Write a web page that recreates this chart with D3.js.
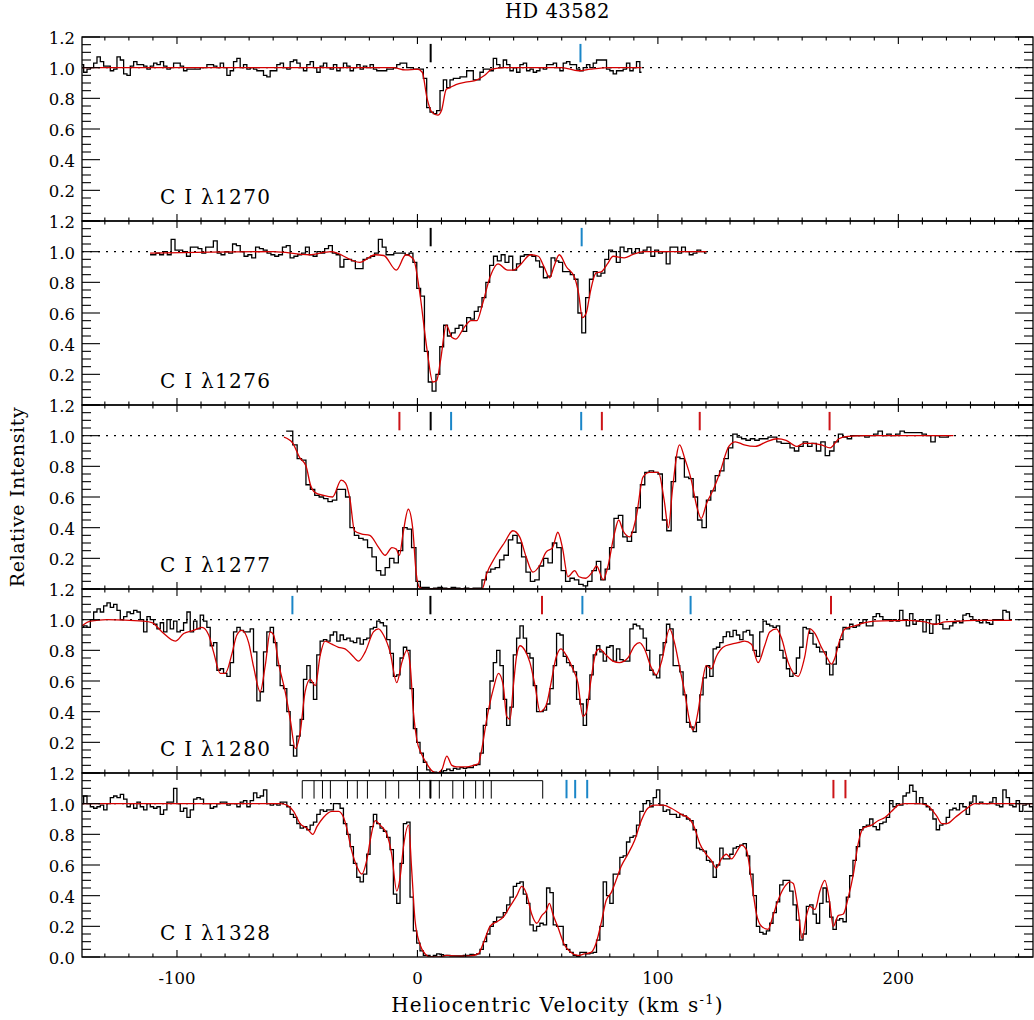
<!DOCTYPE html>
<html>
<head>
<meta charset="utf-8">
<script src="https://cdn.jsdelivr.net/npm/d3@7"></script>
<style>
  body { margin: 0; background: #fff; }
  svg text { font-family: "DejaVu Serif", serif; fill: #000; }
</style>
</head>
<body>
<svg id="chart" width="1034" height="1020"></svg>
<script>
// ---- axes ----
const velocityRange = [-139.5, 256];
const intensityRange = [0, 1.2];
const starName = "HD 43582";
const lineNames = ["C I \u03bb1270", "C I \u03bb1276", "C I \u03bb1277", "C I \u03bb1280", "C I \u03bb1328"];

// ---- observed spectra: first pixel velocity and pixel width (km/s) ----
const gridStart = [-139.5, -111.2, -54.6, -139.5, -139.5];
const gridStep  = [1.385, 1.596, 1.83, 1.385, 1.385];

const flux1270 = [
  1.02,0.97,0.99,1.0,1.03,1.07,1.04,1.01,1.01,0.98,
  0.99,1.07,1.05,0.96,0.95,1.01,1.04,1.02,1.02,1.01,
  0.99,1.01,1.03,1.02,1.04,1.01,0.99,1.0,1.03,1.03,
  1.01,0.98,0.99,0.99,0.99,0.99,1.0,1.0,1.02,1.02,
  1.01,1.0,1.03,1.0,0.95,0.98,1.04,1.06,1.0,1.02,
  0.99,1.0,0.99,0.98,0.98,0.95,0.94,0.98,0.98,1.02,
  1.03,1.0,0.99,1.04,1.05,1.03,
  1.0,0.98,1.02,1.04,1.0,0.97,1.01,1.03,1.0,0.99,1.02,0.98,
  1.0,1.03,1.01,0.98,1.0,1.02,0.99,1.01,1.0,1.02,0.99,0.98,
  0.98,0.98,0.99,0.99,1.0,1.02,1.03,1.03,1.0,1.0,
  0.99,0.99,0.99,0.93,0.74,0.71,0.70,0.72,0.85,0.92,
  0.87,0.92,0.93,0.93,0.94,0.94,0.98,0.98,0.92,0.92,
  0.97,0.99,0.99,0.98,1.06,1.02,1.0,1.05,1.02,0.98,
  1.0,0.97,1.02,1.03,0.98,0.99,0.97,0.98,1.0,0.99,
  1.02,1.02,1.03,1.0,0.98,1.03,1.04,1.02,1.02,0.99,
  0.98,1.0,1.02,1.0,1.03,1.05,1.05,1.05,0.99,0.98,
  0.96,0.98,0.98,0.99,1.03,0.98,1.0,1.04,0.97
];
const flux1276 = [
  0.98,0.98,0.99,0.98,1.0,0.98,1.08,1.01,1.01,1.0,
  0.97,1.03,1.03,1.02,0.99,1.03,1.03,1.07,0.99,0.98,
  1.0,0.99,1.05,1.04,1.0,0.97,0.98,0.96,1.03,1.02,
  1.01,0.99,0.98,0.97,0.98,1.03,1.04,0.96,0.97,0.98,
  0.99,1.03,0.98,0.97,1.0,0.99,1.02,1.04,0.99,0.98,
  0.90,0.95,0.95,0.94,0.89,0.89,0.95,0.96,0.97,0.99,
  1.08,1.03,0.98,0.98,0.99,0.99,0.99,0.98,0.99,0.93,
  0.76,0.71,0.35,0.15,0.09,0.20,0.38,0.52,0.45,0.47,
  0.50,0.52,0.48,0.57,0.56,0.61,0.64,0.70,0.80,0.91,
  0.97,0.94,0.98,0.93,0.97,0.88,0.92,0.97,0.98,0.98,
  0.97,0.94,0.90,0.83,0.84,0.96,0.94,0.93,0.87,0.87,
  0.85,0.82,0.60,0.47,0.70,0.82,0.87,0.84,0.86,0.95,
  1.01,1.0,0.93,1.03,1.0,1.02,0.99,1.02,0.99,1.01,
  1.03,0.97,1.01,0.99,1.0,0.92,1.03,1.03,0.99,1.03,
  1.0,0.98,0.99,1.01,1.0,0.99
];
const flux1277 = [
  1.03,1.03,0.94,0.85,0.84,0.68,0.65,0.61,0.60,0.59,
  0.57,0.58,0.65,0.65,0.60,0.40,0.35,0.33,0.32,0.27,
  0.21,0.12,0.09,0.14,0.20,0.17,0.25,0.40,0.39,0.27,
  0.05,0.01,0.01,0.0,0.005,0.01,0.005,0.0,0.01,0.005,
  0.0,0.005,0.0,0.005,0.005,0.06,0.11,0.13,0.14,0.19,
  0.22,0.32,0.35,0.30,0.21,0.11,0.05,0.06,0.15,0.20,
  0.17,0.30,0.27,0.12,0.05,0.07,0.06,0.03,0.02,0.05,
  0.12,0.18,0.06,0.13,0.27,0.46,0.48,0.34,0.31,0.37,
  0.53,0.68,0.76,0.77,0.76,0.75,0.45,0.38,0.70,0.86,
  0.85,0.73,0.72,0.60,0.45,0.40,0.58,0.64,0.74,0.77,
  0.85,0.92,1.01,0.99,0.98,0.97,0.98,0.97,0.98,0.98,
  0.99,0.99,0.96,0.95,0.95,0.92,0.90,0.93,0.96,0.93,
  0.95,0.90,0.96,0.87,0.90,0.96,1.01,0.99,0.98,1.0,
  1.0,1.0,0.99,1.0,1.01,1.03,1.0,1.01,1.0,1.01,
  1.03,1.02,1.02,1.02,1.02,1.01,1.0,0.96,1.0,0.99,
  0.99,1.0
];
const flux1280 = [
  0.95,0.96,0.95,1.0,1.05,1.07,1.05,1.09,1.11,1.08,
  1.10,1.06,1.0,1.02,1.05,1.04,1.06,1.05,1.0,0.92,
  1.02,1.0,0.97,0.94,0.98,0.92,1.0,0.94,0.99,0.92,
  0.93,0.98,1.05,0.92,0.99,0.94,1.03,0.99,0.95,0.83,
  0.85,0.67,0.68,0.65,0.63,0.72,0.92,0.95,0.93,0.92,
  0.92,0.94,0.79,0.47,0.53,0.79,0.92,0.95,0.85,0.70,
  0.57,0.55,0.40,0.18,0.11,0.24,0.35,0.61,0.70,0.59,
  0.48,0.77,0.86,0.87,0.86,0.90,0.92,0.86,0.90,0.87,
  0.88,0.86,0.85,0.88,0.84,0.87,0.88,0.94,0.95,0.99,
  0.98,0.96,0.87,0.78,0.63,0.64,0.75,0.82,0.80,0.55,
  0.29,0.20,0.13,0.07,0.02,0.0,0.005,0.0,0.005,0.015,
  0.025,0.015,0.03,0.025,0.035,0.03,0.035,0.035,0.05,0.055,
  0.13,0.31,0.42,0.60,0.72,0.80,0.70,0.48,0.31,0.43,
  0.77,0.88,0.96,0.88,0.78,0.75,0.57,0.40,
  0.40,0.41,0.45,0.55,0.70,0.91,0.90,0.76,0.72,0.70,
  0.66,0.48,0.45,0.31,0.48,0.64,0.77,0.83,0.79,0.73,
  0.82,0.83,0.73,0.81,0.74,0.73,0.73,0.94,0.97,0.96,
  0.94,0.88,0.80,0.67,0.64,0.62,0.77,0.85,0.97,0.94,
  0.70,0.70,0.66,0.51,0.33,0.30,0.27,0.33,0.51,0.62,
  0.70,0.63,0.81,0.82,0.85,0.89,0.92,0.89,0.93,0.90,
  0.87,0.92,0.93,0.90,0.80,0.76,0.92,0.99,0.97,0.96,
  0.95,0.96,0.80,0.75,0.68,0.63,0.65,0.75,0.82,0.95,
  0.94,0.91,0.84,0.82,0.79,0.79,0.71,0.64,0.71,0.82,
  0.87,0.95,0.94,0.97,0.95,0.96,0.98,1.0,0.96,0.96,
  1.02,1.04,1.02,1.0,1.0,0.99,1.0,0.99,1.06,1.0,
  0.96,1.04,0.97,0.99,1.0,0.92,1.0,0.91,0.97,1.03,
  0.97,0.94,0.94,0.96,0.98,0.99,0.98,1.03,1.04,1.02,
  1.0,0.99,0.98,1.0,0.98,0.97,1.0,1.0,1.0,1.06,
  1.05,1.0
];
const flux1328 = [
  1.0,1.05,1.0,0.98,0.97,0.98,0.99,0.96,1.0,1.04,
  1.05,1.04,1.06,1.03,0.98,1.0,0.97,1.01,0.98,0.96,
  1.0,0.98,0.97,0.98,0.93,0.96,1.01,1.01,1.10,1.0,
  0.95,0.97,0.91,0.96,1.03,1.04,1.03,1.0,1.0,0.97,
  0.98,1.0,1.01,1.01,0.99,1.0,1.0,0.98,1.01,1.02,
  0.98,1.02,1.07,1.04,1.05,1.09,1.0,0.99,1.0,0.99,
  1.01,1.01,0.98,0.93,0.91,0.87,0.84,0.85,0.83,0.86,
  0.88,0.93,0.96,0.95,0.96,0.96,1.0,1.0,0.97,0.87,
  0.80,0.72,0.61,0.52,0.49,0.54,0.67,0.85,0.93,0.87,
  0.84,0.82,0.78,0.70,0.41,0.35,0.61,0.87,0.88,0.39,
  0.17,0.09,0.04,0.01,0.01,0.0,0.01,0.02,0.015,0.01,
  0.01,0.007,0.007,0.007,0.007,0.01,0.01,0.017,0.015,0.02,
  0.05,0.10,0.15,0.20,0.23,0.26,0.26,0.29,0.34,0.39,
  0.46,0.48,0.49,0.41,0.35,0.21,0.17,0.20,
  0.22,0.21,0.45,0.42,0.21,0.20,0.20,0.08,0.05,0.03,
  0.01,0.005,0.03,0.03,0.02,0.025,0.03,0.11,0.20,0.49,
  0.40,0.35,0.54,0.54,0.65,0.66,0.75,0.78,0.79,0.86,
  0.95,1.0,1.02,0.98,1.04,1.09,0.99,0.95,0.96,0.93,
  0.93,0.91,0.93,0.92,0.90,0.89,0.83,0.71,0.70,0.69,
  0.63,0.62,0.52,0.60,0.71,0.64,0.64,0.67,0.71,0.72,
  0.73,0.74,0.66,0.54,0.40,0.20,0.16,0.15,0.17,0.22,
  0.29,0.36,0.47,0.50,0.50,0.43,0.34,0.24,0.11,0.15,
  0.33,0.34,0.28,0.22,0.35,0.45,0.36,0.26,0.18,0.24,
  0.25,0.23,0.39,0.53,0.63,0.72,0.83,0.85,0.86,0.90,
  0.85,0.83,0.87,0.88,0.91,1.02,0.98,1.0,0.99,1.05,
  1.07,1.12,1.08,1.0,1.04,1.0,0.98,0.96,0.90,0.83,
  0.86,0.87,0.91,0.96,0.97,0.96,1.0,0.98,0.93,1.01,
  1.05,1.0,1.01,1.0,1.0,1.01,1.04,0.99,0.98,1.09,
  1.04,0.99,0.98,1.02,0.95,0.99,1.0,0.98,0.96
];

// ---- profile fits: [velocity, relative intensity] ----
const fit1270 = [[-139.5,1.0],[-60,1.0],[-10,1.0],[-5,0.985],[0,0.99],[2,0.97],[4,0.8],[6,0.71],[8.5,0.69],[10,0.72],
  [12,0.86],[13.5,0.87],[16,0.89],[20,0.905],[24,0.915],[28,0.95],[31,0.99],[36,1.0],[60,1.0],[67,0.98],[72,0.99],[80,1.0],[93.2,1.0]];
const fit1276 = [[-111.2,0.99],[-60,1.0],[-45,0.98],[-36,1.0],[-24,0.93],[-17.6,0.98],[-14,0.975],[-8.8,0.88],[-4.8,0.98],[-1.6,0.95],
  [0.8,0.75],[4,0.36],[6.4,0.15],[8,0.16],[9.6,0.29],[12,0.52],[14.4,0.44],[16,0.43],[19.2,0.5],[22.3,0.55],[24.7,0.55],
  [27.1,0.66],[30.3,0.84],[33.5,0.92],[37.5,0.88],[40,0.88],[43.1,0.92],[47,0.98],[50.3,0.97],[52.7,0.9],[55,0.83],
  [56.7,0.9],[59,0.98],[62,0.9],[65.4,0.83],[67,0.73],[68.6,0.57],[70.2,0.6],[71.8,0.73],[74.2,0.86],[76.6,0.87],
  [79,0.92],[81.4,0.97],[86,0.96],[89.4,0.98],[94,1.0],[120.2,1.0]];
const fit1277 = [[-55.5,0.99],[-51.8,0.95],[-49.1,0.86],[-46.3,0.80],[-44.5,0.68],[-42.7,0.63],[-39,0.61],[-35.3,0.60],
  [-31.7,0.71],[-29.9,0.69],[-28,0.58],[-26.2,0.38],[-23.4,0.36],[-19.8,0.35],[-16.1,0.27],[-13.4,0.22],[-10.6,0.27],
  [-8.8,0.26],[-7.5,0.22],[-6,0.36],[-3.8,0.52],[-2,0.40],[-0.5,0.10],[0.9,0.01],[3.1,0.0],[26.9,0.0],[28.8,0.10],
  [32.4,0.21],[36.1,0.30],[39.7,0.38],[42.5,0.34],[45.2,0.21],[48,0.11],[50.7,0.15],[53.5,0.24],[56.2,0.27],[58.4,0.37],
  [60.3,0.27],[62.6,0.08],[65.4,0.12],[67.2,0.08],[70,0.07],[72.7,0.11],[74.5,0.15],[77.3,0.06],[79.1,0.14],[81.9,0.36],
  [83.7,0.45],[85.5,0.38],[88.3,0.34],[91,0.47],[93.8,0.73],[96.5,0.76],[100.2,0.76],[102.6,0.58],[104.4,0.40],[106,0.64],
  [109,0.94],[111.2,0.85],[113.9,0.71],[116.3,0.53],[118,0.46],[120.3,0.56],[123.1,0.65],[125.8,0.76],[129.5,0.93],
  [132.2,0.96],[135.9,0.94],[140.5,0.93],[145.1,0.96],[149.6,0.98],[153.3,0.97],[157.9,0.93],[160.6,0.95],[164.3,0.95],
  [168,0.94],[171.6,0.92],[175.3,0.98],[178.9,0.995],[186.3,1.0],[222.9,1.0]];
const fit1280 = [[-139.5,0.96],[-136,0.99],[-129.1,1.0],[-113.9,0.99],[-110.4,0.98],[-106.2,0.92],[-100.7,0.86],[-97.2,0.91],
  [-93.1,0.93],[-89.6,0.95],[-86.8,0.90],[-84.8,0.79],[-82,0.65],[-79.9,0.65],[-77.1,0.78],[-75.1,0.90],[-73,0.93],
  [-70.2,0.85],[-68.1,0.69],[-65.4,0.53],[-63.3,0.70],[-61.2,0.92],[-59.8,0.90],[-57.8,0.72],[-55,0.53],[-52.9,0.35],
  [-50.8,0.16],[-48.8,0.26],[-46.7,0.53],[-44.6,0.61],[-42.5,0.57],[-40.4,0.77],[-38.4,0.86],[-35.6,0.84],[-32.8,0.82],
  [-30.1,0.81],[-27.3,0.77],[-24.5,0.73],[-21.7,0.79],[-18.3,0.92],[-16.2,0.94],[-14.1,0.90],[-11.4,0.79],[-8.6,0.59],
  [-6.5,0.72],[-4.4,0.80],[-3,0.70],[-1.7,0.40],[-0.3,0.22],[1.8,0.12],[3.9,0.06],[6,0.015],[8,0.0],[10.1,0.02],
  [12.2,0.11],[14.3,0.05],[16.3,0.04],[20.5,0.04],[23.3,0.05],[25.3,0.06],[26.7,0.15],[28.8,0.35],[31.6,0.55],[33.7,0.65],
  [35.7,0.57],[37.1,0.37],[38.5,0.35],[39.9,0.57],[41.3,0.77],[42.7,0.83],[44.7,0.80],[46.8,0.72],[48.9,0.57],[51,0.40],
  [53.5,0.44],[55.6,0.59],[57.6,0.75],[59.7,0.81],[61.8,0.77],[64.6,0.68],[66.7,0.59],[68.8,0.37],[70.1,0.39],[72.2,0.61],
  [74.3,0.79],[75.7,0.81],[77.8,0.78],[81.3,0.73],[84,0.72],[87.5,0.75],[90.3,0.83],[92.4,0.85],[94.4,0.81],[97.2,0.69],
  [99.3,0.64],[101.4,0.72],[104.9,0.94],[106.9,0.85],[109,0.69],[111.1,0.53],[113.2,0.34],[114.6,0.28],[116.7,0.40],
  [118.1,0.55],[120.1,0.70],[122.2,0.68],[124.3,0.76],[127.1,0.82],[130.6,0.84],[133.3,0.85],[136.1,0.86],[138.9,0.84],
  [141.7,0.72],[144.4,0.83],[146.5,0.92],[149.3,0.94],[151.4,0.88],[154.2,0.72],[158.3,0.63],[161.1,0.76],[163.2,0.94],
  [165.3,0.91],[168,0.82],[170.1,0.76],[172.2,0.71],[173.6,0.75],[175.7,0.87],[177.8,0.94],[181.9,0.96],[186.1,0.98],
  [190.3,0.99],[204.2,0.995],[211.1,0.985],[215.3,0.97],[219.4,0.985],[225,0.99],[231.9,0.995],[247.2,0.995]];
const fit1328 = [[-139.5,1.0],[-57.1,1.0],[-54.3,0.99],[-51.5,0.95],[-48.8,0.87],[-46,0.84],[-43.5,0.80],[-41.8,0.85],
  [-39.1,0.91],[-35.6,0.95],[-32.8,0.95],[-30.7,0.91],[-29.4,0.84],[-27.3,0.69],[-25.2,0.59],[-23.1,0.54],[-21.1,0.63],
  [-19.4,0.78],[-17.6,0.89],[-15.5,0.86],[-12.7,0.80],[-10.7,0.67],[-8.6,0.43],[-7.2,0.52],[-5.8,0.72],[-3.7,0.86],
  [-2.4,0.57],[-1,0.24],[1.1,0.08],[3.2,0.02],[5.3,0.0],[9.4,0.0],[12.2,0.01],[17.7,0.005],[21.9,0.007],[25.3,0.02],
  [27.4,0.09],[30.2,0.20],[33,0.23],[35.7,0.26],[38.5,0.33],[41.3,0.40],[43.4,0.46],[45.4,0.41],[47.5,0.28],[49.6,0.22],
  [51.7,0.27],[53.5,0.30],[54.9,0.35],[56.3,0.28],[58.3,0.20],[61.1,0.08],[63.9,0.03],[66.7,0.01],[69.4,0.02],[72.2,0.03],
  [74.3,0.09],[76.4,0.22],[78.5,0.37],[80.6,0.42],[82.6,0.50],[84.7,0.59],[87.5,0.67],[90.3,0.76],[93.1,0.89],[95.8,0.97],
  [98.6,0.99],[102.1,0.99],[105.6,0.97],[109.7,0.93],[113.2,0.90],[115.3,0.84],[117.4,0.74],[120.1,0.67],[122.2,0.63],
  [124.3,0.58],[126.4,0.64],[128.5,0.67],[130.6,0.64],[133.3,0.70],[134.7,0.73],[136.8,0.70],[138.9,0.50],[141,0.28],
  [143.1,0.20],[145.8,0.18],[147.9,0.27],[150,0.37],[152.8,0.46],[154.9,0.49],[156.3,0.48],[158.3,0.31],[160,0.12],
  [161.8,0.27],[163.2,0.33],[165.3,0.31],[167.4,0.43],[169.4,0.50],[171.5,0.35],[172.9,0.20],[175,0.27],[177.1,0.28],
  [179.2,0.39],[181.3,0.54],[183.3,0.74],[185.4,0.84],[188.9,0.86],[191.7,0.89],[194.4,0.91],[197.2,0.95],[200,0.99],
  [202.8,1.0],[208.3,1.0],[211.8,0.99],[215.9,0.92],[218.1,0.87],[220.1,0.87],[223.6,0.91],[227.8,0.96],[231.9,1.0],[256,1.0]];

// ---- component markers: velocity and colour ----
const marks1270 = [[5.5,"k"],[67.8,"b"]];
const marks1276 = [[5.5,"k"],[68.3,"b"]];
const marks1277 = [[-7.5,"r"],[5.5,"k"],[14,"b"],[68.1,"b"],[76.7,"r"],[117.4,"r"],[171.4,"r"]];
const marks1280 = [[-52,"b"],[5.4,"k"],[51.8,"r"],[68.6,"b"],[113.6,"b"],[172,"r"]];
const marks1328 = [[5.4,"k"],[62,"b"],[65.6,"b"],[70.6,"b"],[173,"r"],[178,"r"]];
// velocity comb of the fine-structure components, drawn over the C I λ1328 panel
const combVelocities = [-47.9,-43.0,-39.5,-36.2,-29.1,-25.0,-20.8,-13.2,-7.8,0.9,5.4,9.1,14.7,19.2,24.2,27.4,30.7,52.1];

const markColor = { k: "#000000", b: "#1a86c8", r: "#cc1418" };
const fitColor = "#d40000";

const panels = [
  { name: lineNames[0], flux: flux1270, fit: fit1270, marks: marks1270 },
  { name: lineNames[1], flux: flux1276, fit: fit1276, marks: marks1276 },
  { name: lineNames[2], flux: flux1277, fit: fit1277, marks: marks1277 },
  { name: lineNames[3], flux: flux1280, fit: fit1280, marks: marks1280 },
  { name: lineNames[4], flux: flux1328, fit: fit1328, marks: marks1328, comb: combVelocities }
].map((p, i) => Object.assign(p, { start: gridStart[i], step: gridStep[i] }));

// ---- layout ----
const svg = d3.select("#chart");
const left = 82, right = 1033, plotTop = 37, plotBottom = 957;
const panelH = (plotBottom - plotTop) / panels.length;
const x = d3.scaleLinear().domain(velocityRange).range([left, right]);
const xMinor = x.ticks(40), xMajor = x.ticks(4);

svg.append("rect").attr("width", 1034).attr("height", 1020).attr("fill", "#fff");

panels.forEach((p, i) => {
  const top = plotTop + i * panelH, bottom = top + panelH;
  const y = d3.scaleLinear().domain(intensityRange).range([bottom, top]);
  const g = svg.append("g");

  const clipId = "clip" + i;
  svg.append("clipPath").attr("id", clipId)
    .append("rect").attr("x", left).attr("y", top).attr("width", right - left).attr("height", panelH);
  const plot = g.append("g").attr("clip-path", `url(#${clipId})`);

  // continuum level
  plot.append("line")
    .attr("x1", left).attr("x2", right).attr("y1", y(1)).attr("y2", y(1))
    .attr("stroke", "#000").attr("stroke-width", 1.1).attr("stroke-dasharray", "2,6");

  // observed spectrum (histogram style)
  const pts = p.flux.map((f, k) => [p.start + k * p.step, f]);
  plot.append("path").datum(pts)
    .attr("d", d3.line().x(d => x(d[0])).y(d => y(d[1])).curve(d3.curveStep))
    .attr("fill", "none").attr("stroke", "#000").attr("stroke-width", 1.3);

  // model profile
  plot.append("path").datum(p.fit)
    .attr("d", d3.line().x(d => x(d[0])).y(d => y(d[1])).curve(d3.curveMonotoneX))
    .attr("fill", "none").attr("stroke", fitColor).attr("stroke-width", 1.3);

  // component comb
  if (p.comb) {
    const cg = g.append("g").attr("stroke", "#000").attr("stroke-width", 1);
    cg.append("line")
      .attr("x1", x(d3.min(p.comb))).attr("x2", x(d3.max(p.comb)))
      .attr("y1", y(1.15)).attr("y2", y(1.15));
    cg.selectAll("line.c").data(p.comb).join("line").attr("class", "c")
      .attr("x1", d => x(d)).attr("x2", d => x(d))
      .attr("y1", y(1.15)).attr("y2", y(1.033));
  }

  // component markers
  g.selectAll("line.mark").data(p.marks).join("line").attr("class", "mark")
    .attr("x1", d => x(d[0])).attr("x2", d => x(d[0]))
    .attr("y1", y(1.155)).attr("y2", y(1.035))
    .attr("stroke", d => markColor[d[1]]).attr("stroke-width", 2);

  // frame
  g.append("rect").attr("x", left).attr("y", top).attr("width", right - left).attr("height", panelH)
    .attr("fill", "none").attr("stroke", "#000").attr("stroke-width", 1.3);

  // x ticks on top and bottom edges
  const tk = g.append("g").attr("stroke", "#000").attr("stroke-width", 1.1);
  xMinor.forEach(v => {
    const len = xMajor.includes(v) ? 7 : 3.5;
    tk.append("line").attr("x1", x(v)).attr("x2", x(v)).attr("y1", bottom).attr("y2", bottom - len);
    tk.append("line").attr("x1", x(v)).attr("x2", x(v)).attr("y1", top).attr("y2", top + len);
  });
  // y ticks on left and right edges
  const yMinor = y.ticks(24), yMajor = y.ticks(6);
  yMinor.forEach(v => {
    const major = yMajor.some(m => Math.abs(m - v) < 1e-9);
    const len = major ? 18 : 9;
    tk.append("line").attr("x1", left).attr("x2", left + len).attr("y1", y(v)).attr("y2", y(v));
    tk.append("line").attr("x1", right).attr("x2", right - len).attr("y1", y(v)).attr("y2", y(v));
  });
  // y labels
  const labelVals = yMajor.filter(v => i === panels.length - 1 || v > 0.01);
  g.selectAll("text.ylab").data(labelVals).join("text").attr("class", "ylab")
    .attr("x", 75).attr("y", d => y(d) + 7)
    .attr("text-anchor", "end").attr("font-size", 16.5)
    .text(d => d3.format(".1f")(d));

  // line label
  g.append("text").attr("x", 160).attr("y", bottom - 17)
    .attr("font-size", 20).attr("letter-spacing", 1.3).text(p.name);

  // x labels on the bottom panel
  if (i === panels.length - 1) {
    g.selectAll("text.xlab").data(xMajor).join("text").attr("class", "xlab")
      .attr("x", d => x(d)).attr("y", bottom + 27)
      .attr("text-anchor", "middle").attr("font-size", 16.5)
      .text(d => String(d));
  }
});

// titles
svg.append("text").attr("x", (left + right) / 2).attr("y", 18)
  .attr("text-anchor", "middle").attr("font-size", 19.5).attr("letter-spacing", 0.5).text(starName);

const xt = svg.append("text").attr("x", (left + right) / 2).attr("y", 1012)
  .attr("text-anchor", "middle").attr("font-size", 20).attr("letter-spacing", 1.3);
xt.append("tspan").text("Heliocentric Velocity (km s");
xt.append("tspan").attr("dy", -8).attr("font-size", 13).text("-1");
xt.append("tspan").attr("dy", 8).text(")");

svg.append("text")
  .attr("transform", `translate(24,${(plotTop + plotBottom) / 2}) rotate(-90)`)
  .attr("text-anchor", "middle").attr("font-size", 19).attr("letter-spacing", 0.6).text("Relative Intensity");
</script>
</body>
</html>
